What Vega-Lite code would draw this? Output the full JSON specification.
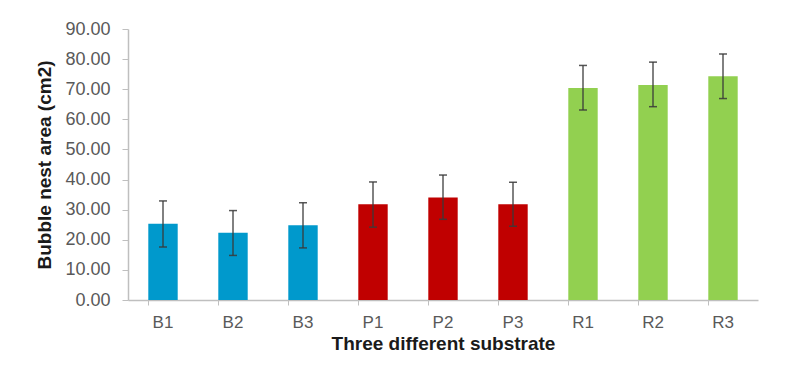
{
  "$schema": "https://vega.github.io/schema/vega-lite/v6.json",
  "autosize": {"type": "none"},
  "width": 630,
  "height": 271,
  "padding": {"left": 128, "top": 29, "right": 27, "bottom": 74},
  "background": "white",
  "config": {
    "view": {"stroke": null},
    "font": "Liberation Sans",
    "axis": {
      "labelFont": "Liberation Sans",
      "titleFont": "Liberation Sans",
      "labelColor": "#595959",
      "titleColor": "#1a1a1a",
      "domainColor": "#bfbfbf",
      "tickColor": "#bfbfbf",
      "grid": false,
      "labelOverlap": false
    },
    "axisY": {
      "titleFontSize": 19,
      "titleFontWeight": "bold",
      "titlePadding": 10,
      "labelFontSize": 18,
      "labelPadding": 12,
      "labelFlush": false,
      "tickSize": 6,
      "domainWidth": 1.5
    }
  },
  "data": {
    "values": [
      {"name": "B1", "group": "B", "mean": 25.3, "lower": 17.6, "upper": 32.9},
      {"name": "B2", "group": "B", "mean": 22.3, "lower": 14.8, "upper": 29.7},
      {"name": "B3", "group": "B", "mean": 24.8, "lower": 17.3, "upper": 32.3},
      {"name": "P1", "group": "P", "mean": 31.8, "lower": 24.2, "upper": 39.2},
      {"name": "P2", "group": "P", "mean": 34.0, "lower": 26.8, "upper": 41.5},
      {"name": "P3", "group": "P", "mean": 31.8, "lower": 24.5, "upper": 39.1},
      {"name": "R1", "group": "R", "mean": 70.4, "lower": 63.1, "upper": 77.9},
      {"name": "R2", "group": "R", "mean": 71.4, "lower": 64.2, "upper": 79.0},
      {"name": "R3", "group": "R", "mean": 74.3, "lower": 66.9, "upper": 81.7}
    ]
  },
  "encoding": {
    "x": {
      "field": "name",
      "type": "nominal",
      "sort": null,
      "scale": {"paddingInner": 0.58, "paddingOuter": 0.29},
      "axis": {
        "title": "Three different substrate",
        "titleFontSize": 19,
        "titleFontWeight": "bold",
        "titlePadding": 4,
        "labelFontSize": 17,
        "labelAngle": 0,
        "labelPadding": 9,
        "bandPosition": 0,
        "tickSize": 5,
        "domainWidth": 1.5
      }
    }
  },
  "layer": [
    {
      "mark": {"type": "bar"},
      "encoding": {
        "y": {
          "field": "mean",
          "type": "quantitative",
          "scale": {"domain": [0, 90]},
          "axis": {"title": "Bubble nest area (cm2)", "format": ".2f", "values": [0, 10, 20, 30, 40, 50, 60, 70, 80, 90]}
        },
        "color": {
          "field": "group",
          "type": "nominal",
          "scale": {"domain": ["B", "P", "R"], "range": ["#0099cc", "#c00000", "#92d050"]},
          "legend": null
        }
      }
    },
    {
      "mark": {"type": "rule", "color": "#3a3a3a", "strokeWidth": 1.5, "opacity": 0.85},
      "encoding": {
        "y": {"field": "lower", "type": "quantitative", "axis": {"title": "Bubble nest area (cm2)", "format": ".2f", "values": [0, 10, 20, 30, 40, 50, 60, 70, 80, 90]}},
        "y2": {"field": "upper"}
      }
    },
    {
      "mark": {"type": "tick", "color": "#3a3a3a", "size": 8, "thickness": 1.5, "opacity": 0.85},
      "encoding": {"y": {"field": "upper", "type": "quantitative", "axis": {"title": "Bubble nest area (cm2)", "format": ".2f", "values": [0, 10, 20, 30, 40, 50, 60, 70, 80, 90]}}}
    },
    {
      "mark": {"type": "tick", "color": "#3a3a3a", "size": 8, "thickness": 1.5, "opacity": 0.85},
      "encoding": {"y": {"field": "lower", "type": "quantitative", "axis": {"title": "Bubble nest area (cm2)", "format": ".2f", "values": [0, 10, 20, 30, 40, 50, 60, 70, 80, 90]}}}
    }
  ]
}
